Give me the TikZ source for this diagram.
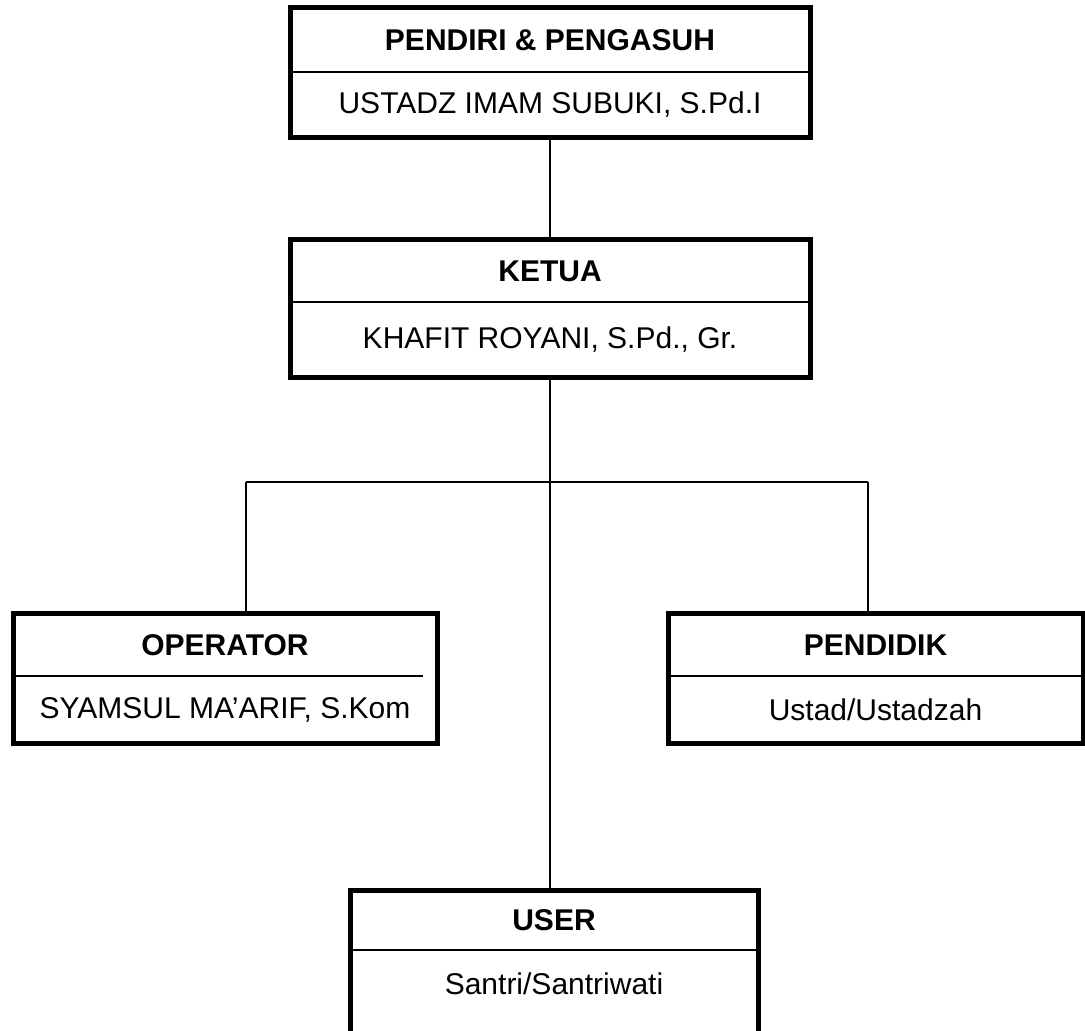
\documentclass[tikz,border=0pt]{standalone}
\usepackage{fontspec}
\setmainfont{Liberation Sans}
\begin{document}
\begin{tikzpicture}[x=0.5pt,y=-0.5pt,
  box/.style={draw=black,line width=2.5pt,rectangle,inner sep=0pt,fill=none},
  divider/.style={line width=1pt},
  conn/.style={line width=1pt},
  title/.style={font=\fontsize{15}{18}\selectfont\bfseries,inner sep=0pt},
  person/.style={font=\fontsize{15}{18}\selectfont,inner sep=0pt}]
\useasboundingbox (0,0) rectangle (1085,1030);
\fill[white] (0,0) rectangle (1085,1030);
% boxes
\node[box,minimum width=260pt,minimum height=65pt] (top) at (550,72) {};
\node[box,minimum width=260pt,minimum height=69pt] (ketua) at (550,308) {};
\node[box,minimum width=212pt,minimum height=65pt] (op) at (225,678) {};
\node[box,minimum width=207.5pt,minimum height=65pt] (pd) at (875.5,678) {};
\node[box,minimum width=204pt,minimum height=80pt] (us) at (554,970) {};
% dividers
\draw[divider] (top.west |- 0,72) -- (top.east |- 0,72);
\draw[divider] (ketua.west |- 0,302) -- (ketua.east |- 0,302);
\draw[divider] (op.west |- 0,676) -- (423,676);
\draw[divider] (pd.west |- 0,676) -- (pd.east |- 0,676);
\draw[divider] (us.west |- 0,950) -- (us.east |- 0,950);
% texts
\node[title] (toptitle) at (550,40) {PENDIRI \& PENGASUH};
\node[person] (topname) at (550,105) {USTADZ IMAM SUBUKI, S.Pd.I};
\node[title] (ketuatitle) at (550,271) {KETUA};
\node[person] (ketuaname) at (550,340) {KHAFIT ROYANI, S.Pd., Gr.};
\node[title] (optitle) at (225,645) {OPERATOR};
\node[person] (opname) at (225,710) {SYAMSUL MA’ARIF, S.Kom};
\node[title] (pdtitle) at (875.5,645) {PENDIDIK};
\node[person] (pdname) at (875.5,710) {Ustad/Ustadzah};
\node[title] (ustitle) at (554,920) {USER};
\node[person] (usname) at (554,984) {Santri/Santriwati};
% connectors
\coordinate (jl) at (246,482);
\coordinate (jr) at (868,482);
\draw[conn] (top.south) -- (ketua.north);
\draw[conn] (ketua.south) -- (ketua.south |- us.north);
\draw[conn] (jl) -- (jr);
\draw[conn] (jl) -- (jl |- op.north);
\draw[conn] (jr) -- (jr |- pd.north);
\end{tikzpicture}
\end{document}
